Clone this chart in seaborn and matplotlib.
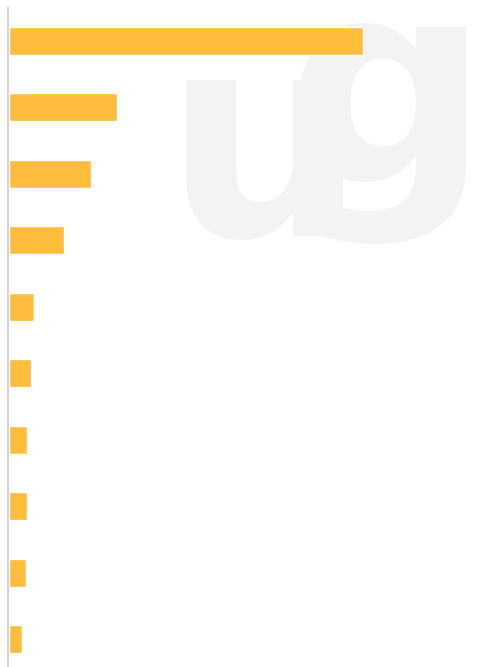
import matplotlib
matplotlib.use("Agg")
import matplotlib.pyplot as plt
import seaborn as sns
import pandas as pd

# valores de las barras (sin etiquetas visibles)
categorias = ["c1", "c2", "c3", "c4", "c5", "c6", "c7", "c8", "c9", "c10"]
valores = [354, 108, 82, 55, 25, 22, 18, 18, 17, 13]

df = pd.DataFrame({"categoria": categorias, "valor": valores})

sns.set_style("white")
fig = plt.figure(figsize=(5.02, 6.67), dpi=100)

# marca de agua de fondo (logo muy claro detras de las barras)
gris = "#f3f3f3"
fig.text(164 / 502, 1 - 236 / 667, "u", fontsize=205, fontweight="bold",
         color=gris, ha="left", va="baseline", zorder=-1, family="DejaVu Sans")
fig.text(489 / 502, 1 - 182 / 667, "g", fontsize=205, fontweight="bold",
         color=gris, ha="right", va="baseline", zorder=-1, family="DejaVu Sans")

ax = fig.add_axes([8 / 502, 0, 494 / 502, 659 / 667])
ax.patch.set_alpha(0)
sns.barplot(data=df, x="valor", y="categoria", color="#FFBD3E",
            saturation=1, width=0.42, ax=ax)

ax.set_xlim(-1, 493)
ax.set_ylim(9.42, -0.49)
ax.set_xlabel("")
ax.set_ylabel("")
ax.set_xticks([])
ax.set_yticks([])
for s in ["top", "right", "bottom"]:
    ax.spines[s].set_visible(False)
ax.spines["left"].set_color("#d6d6d6")
ax.spines["left"].set_linewidth(1.5)
ax.spines["left"].set_position(("data", -1))

fig.savefig("out.png", dpi=100)
